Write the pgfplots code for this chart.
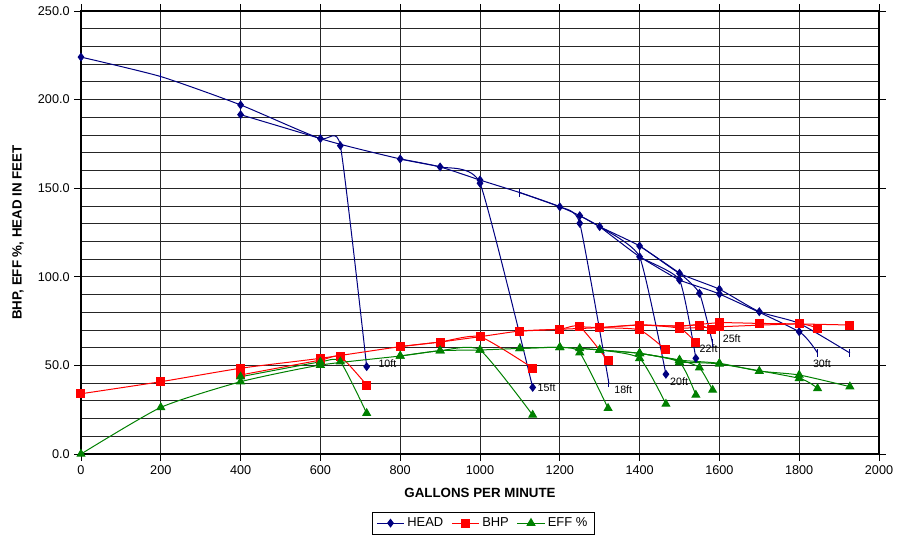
\documentclass[border=0pt]{standalone}
\usepackage{fontspec}
\setmainfont{Liberation Sans}
\usepackage{pgfplots}
\pgfplotsset{compat=1.18}
\definecolor{hd}{RGB}{0,0,128}
\definecolor{bh}{RGB}{255,0,0}
\definecolor{ef}{RGB}{0,128,0}
\begin{document}
\begin{tikzpicture}[x=1pt,y=1pt]
\path[use as bounding box] (-60.75,-62.25) rectangle (619.5,340.5);
\begin{axis}[at={(0,0)},anchor=south west, scale only axis,
 width=598.5pt, height=332.25pt,
 xmin=0,xmax=2000,ymin=0,ymax=250,
 xtick={0,200,...,2000}, ytick={0,50,...,250}, minor ytick={10,20,...,240},
 grid=both,
 major grid style={black!85,line width=0.6pt},
 minor grid style={black!85,line width=0.6pt},
 tick align=outside, major tick length=5pt, minor tick length=0pt,
 tick style={black,line width=0.6pt},
 axis line style={black,line width=1pt},
 yticklabel style={/pgf/number format/.cd,fixed,fixed zerofill,precision=1},
 /pgf/number format/1000 sep={},
 /pgf/number format/assume math mode=true,
 ticklabel style={font=\fontsize{9.5}{11}\selectfont},
 xlabel={\textbf{GALLONS PER MINUTE}}, ylabel={\textbf{BHP, EFF \%, HEAD IN FEET}},
 label style={font=\fontsize{10}{12}\selectfont},
 xlabel style={at={(axis description cs:0.5,-0.088)},anchor=center},
 ylabel style={at={(axis description cs:-0.079,0.5)},anchor=center},
 legend style={at={(axis description cs:0.504,-0.156)}, anchor=center, legend columns=3,
   font=\fontsize{9.7}{11}\selectfont, draw=black, line width=0.6pt,
   /tikz/every even column/.append style={column sep=4pt}},
 legend image code/.code={\draw[mark repeat=2,mark phase=2] plot coordinates {(0cm,0cm) (0.36cm,0cm) (0.72cm,0cm)};},
 legend cell align=left,
 clip=false,
 every axis plot/.append style={line width=0.75pt},
 smooth, tension=0.35,
]
\addlegendimage{hd, mark=diamond*, mark size=2.8pt}
\addlegendentry{HEAD}
\addlegendimage{bh, mark=square*, mark size=3pt}
\addlegendentry{BHP}
\addlegendimage{ef, mark=triangle*, mark size=3.3pt}
\addlegendentry{EFF \%}

% ---------------- HEAD ----------------
\addplot[hd, smooth, tension=0.35, forget plot] coordinates {(0,224) (200,213) (400,197) (600,178) (800,166.5) (900,162) (1000,154.6) (1100,147.5) (1200,139.5) (1250,134.5) (1300,128.3) (1400,117.4) (1500,102) (1600,93) (1700,80.3) (1800,73.7) (1927,57)};
\addplot[hd, smooth, tension=0.3, forget plot] coordinates {(400,191.5) (600,178) (650,174) (716,49.3)};
\addplot[hd, smooth, tension=0.3, forget plot] coordinates {(800,166.5) (900,162) (1000,152.8) (1132,37.6)};
\addplot[hd, smooth, tension=0.3, forget plot] coordinates {(1100,147.5) (1200,139.5) (1250,130.2) (1323,40)};
\addplot[hd, smooth, tension=0.3, forget plot] coordinates {(1250,134.5) (1300,128.3) (1400,111.3) (1466,45)};
\addplot[hd, smooth, tension=0.3, forget plot] coordinates {(1300,128.3) (1400,111.3) (1500,98.2) (1541,54)};
\addplot[hd, smooth, tension=0.3, forget plot] coordinates {(1400,117.4) (1500,102) (1550,90.7) (1583,62.5)};
\addplot[hd, smooth, tension=0.3, forget plot] coordinates {(1400,111.3) (1500,98.2) (1600,90.3) (1800,69) (1846,57)};
\addplot[hd, only marks, mark=diamond*, mark size=2.8pt, forget plot] coordinates {(0,224) (400,197) (400,191.5) (600,178) (650,174) (716,49.3) (800,166.5) (900,162) (1000,154.6) (1000,152.8) (1132,37.6) (1200,139.5) (1250,134.5) (1250,130.2) (1300,128.3) (1400,117.4) (1400,111.3) (1466,45) (1500,102) (1500,98.2) (1541,54) (1550,90.7) (1600,93) (1600,90.3) (1700,80.3) (1800,73.7) (1800,69)};
\addplot[hd, only marks, mark=|, mark size=3pt, forget plot] coordinates {(200,213) (1100,147.5) (1323,40) (1583,62.5) (1846,57) (1927,57)};

% ---------------- BHP ----------------
\addplot[bh, mark=square*, mark size=3pt, forget plot] coordinates {(0,34) (200,40.8) (400,48.4) (600,54) (800,60.6) (900,63.2) (1000,66.2) (1100,69.4) (1200,70.4) (1300,71.3) (1400,72.8) (1500,72.2) (1600,74.1) (1700,73.7) (1800,73.4) (1927,72.8)};
\addplot[bh, mark=square*, mark size=3pt, forget plot] coordinates {(400,44.6) (600,53) (650,55) (716,38.9)};
\addplot[bh, mark=square*, mark size=3pt, forget plot] coordinates {(800,60.6) (900,63.2) (1000,66.2) (1132,48.5)};
\addplot[bh, mark=square*, mark size=3pt, forget plot] coordinates {(1100,69.4) (1200,70.4) (1250,71.8) (1321,52.5)};
\addplot[bh, mark=square*, mark size=3pt, forget plot] coordinates {(1250,71.8) (1300,71.3) (1400,70) (1466,58.7)};
\addplot[bh, mark=square*, mark size=3pt, forget plot] coordinates {(1300,71.3) (1400,72.8) (1500,70.9) (1541,62.8)};
\addplot[bh, mark=square*, mark size=3pt, forget plot] coordinates {(1400,72.8) (1500,72.2) (1550,72.8) (1581,70)};
\addplot[bh, mark=square*, mark size=3pt, forget plot] coordinates {(1500,70.9) (1600,71.8) (1800,73.4) (1846,70.9)};

% ---------------- EFF ----------------
\addplot[ef, mark=triangle*, mark size=3.3pt, forget plot] coordinates {(0,0) (200,26.3) (400,40.8) (600,50.2) (800,55.3) (900,58.3) (1000,58.7) (1100,59.6) (1200,60.2) (1300,58.7) (1400,56.8) (1500,53) (1600,51.2) (1700,46.8) (1800,44.6) (1927,38)};
\addplot[ef, mark=triangle*, mark size=3.3pt, forget plot] coordinates {(400,43.6) (600,52) (650,52.1) (716,23)};
\addplot[ef, mark=triangle*, mark size=3.3pt, forget plot] coordinates {(800,55.3) (900,58.3) (1000,58.7) (1132,22)};
\addplot[ef, mark=triangle*, mark size=3.3pt, forget plot] coordinates {(1100,59.6) (1200,60.2) (1250,57.2) (1321,25.8)};
\addplot[ef, mark=triangle*, mark size=3.3pt, forget plot] coordinates {(1250,59.6) (1300,58.7) (1400,54) (1466,28.2)};
\addplot[ef, mark=triangle*, mark size=3.3pt, forget plot] coordinates {(1300,58.7) (1400,56.8) (1500,51.7) (1541,33.3)};
\addplot[ef, mark=triangle*, mark size=3.3pt, forget plot] coordinates {(1400,56.8) (1500,53) (1550,48.7) (1583,36.1)};
\addplot[ef, mark=triangle*, mark size=3.3pt, forget plot] coordinates {(1500,51.7) (1600,50.8) (1800,42.7) (1846,37)};

% ---------------- labels ----------------
\begin{scope}[every node/.style={anchor=west, inner sep=0pt, font=\fontsize{8}{9}\selectfont}]
\node at (axis cs:745,51) {10ft};
\node at (axis cs:1144,37.6) {15ft};
\node at (axis cs:1336,36.5) {18ft};
\node at (axis cs:1476,40.8) {20ft};
\node at (axis cs:1550,59.6) {22ft};
\node at (axis cs:1608,65.3) {25ft};
\node at (axis cs:1834,51.2) {30ft};
\end{scope}
\end{axis}
\end{tikzpicture}
\end{document}
